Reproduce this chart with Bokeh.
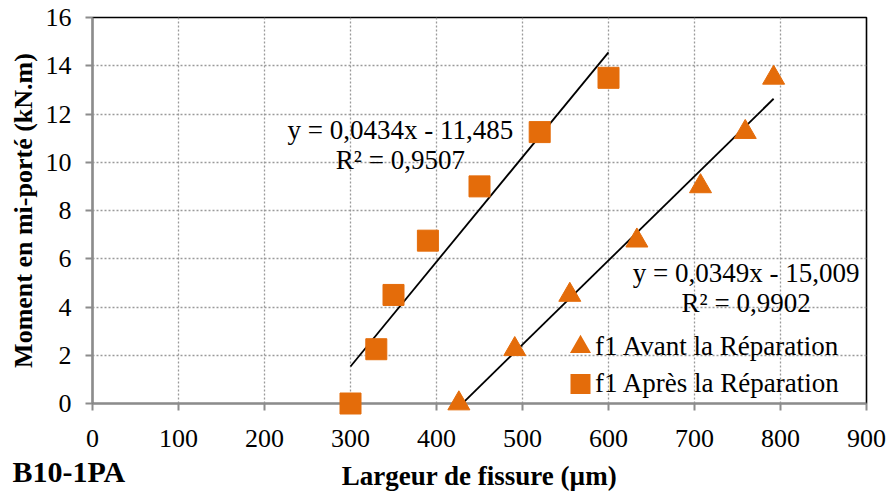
from bokeh.plotting import figure
from bokeh.models import (Label, Legend, LegendItem, Range1d, FixedTicker, Title,
                          ColumnDataSource)
from bokeh.embed import file_html
from bokeh.resources import INLINE

# ---- data ----
avant_x = [426, 491, 555, 633, 707, 759, 792]
avant_y = [0, 2.25, 4.5, 6.75, 9.0, 11.25, 13.5]
apres_x = [300, 330, 350, 390, 450, 520, 600]
apres_y = [0, 2.25, 4.5, 6.75, 9.0, 11.25, 13.5]

avant_slope, avant_intercept = 0.0349, -15.009
apres_slope, apres_intercept = 0.0434, -11.485

avant_name = "f1 Avant la Réparation"
apres_name = "f1 Après la Réparation"
avant_eq = ["y = 0,0349x - 15,009", "R² = 0,9902"]
apres_eq = ["y = 0,0434x - 11,485", "R² = 0,9507"]

x_ticks = [0, 100, 200, 300, 400, 500, 600, 700, 800, 900]
y_ticks = [0, 2, 4, 6, 8, 10, 12, 14, 16]
x_title = "Largeur de fissure (µm)"
y_title = "Moment en mi-porté (kN.m)"
corner_title = "B10-1PA"

ORANGE = "#E46C0A"
SERIF = "Liberation Serif"

p = figure(width=889, height=493, output_backend="svg", toolbar_location=None,
           x_range=Range1d(0, 900), y_range=Range1d(0, 16),
           min_border_left=92, min_border_right=23, min_border_top=17, min_border_bottom=90)
p.background_fill_color = "white"
p.border_fill_color = "white"
p.outline_line_color = "black"
p.outline_line_width = 1.6

for ax in (p.xaxis[0], p.yaxis[0]):
    ax.axis_line_color = "#8C8C8C"
    ax.axis_line_width = 2
    ax.major_tick_line_color = "#8C8C8C"
    ax.major_tick_line_width = 2
    ax.major_tick_out = 7
    ax.major_tick_in = 0
    ax.minor_tick_line_color = None
    ax.major_label_text_font = SERIF
    ax.major_label_text_font_size = "26px"
    ax.major_label_text_color = "black"
    ax.axis_label_text_font = SERIF
    ax.axis_label_text_font_style = "bold"
    ax.axis_label_text_color = "black"

p.xaxis.ticker = FixedTicker(ticks=x_ticks)
p.yaxis.ticker = FixedTicker(ticks=y_ticks)
p.xaxis.axis_label = x_title
p.yaxis.axis_label = y_title
p.xaxis.axis_label_text_font_size = "27px"
p.yaxis.axis_label_text_font_size = "26px"
p.xaxis.major_label_standoff = 19
p.yaxis.major_label_standoff = 14
p.xaxis.axis_label_standoff = 11
p.yaxis.axis_label_standoff = 5

for g in (p.xgrid[0], p.ygrid[0]):
    g.grid_line_color = "#9A9A9A"
    g.grid_line_dash = "2 2"
    g.grid_line_width = 1.3
p.xgrid.ticker = FixedTicker(ticks=x_ticks)
p.ygrid.ticker = FixedTicker(ticks=y_ticks)

# trend lines (from displayed equations, over each series' x extent)
def trend(xs, m, b):
    x0, x1 = min(xs), max(xs)
    return [x0, x1], [m * x0 + b, m * x1 + b]

tx, ty = trend(apres_x, apres_slope, apres_intercept)
p.line(tx, ty, line_color="black", line_width=1.8)
tx, ty = trend(avant_x, avant_slope, avant_intercept)
p.line(tx, ty, line_color="black", line_width=1.8)

src_av = ColumnDataSource(dict(x=avant_x, y=avant_y))
src_ap = ColumnDataSource(dict(x=apres_x, y=apres_y))

p.scatter("x", "y", source=src_av, marker="triangle", size=22, fill_color=ORANGE,
          line_color=ORANGE, line_join="miter", level="overlay")
p.scatter("x", "y", source=src_ap, marker="square", size=21, fill_color=ORANGE,
          line_color=ORANGE, line_join="miter", level="overlay")

# legend swatches: same series, muted (invisible) in the plot, thick outline enlarges swatch
lg_av = p.scatter("x", "y", source=src_av, marker="triangle", fill_color=ORANGE,
                  line_color=ORANGE, line_width=5.2, line_join="miter", muted_alpha=0)
lg_ap = p.scatter("x", "y", source=src_ap, marker="square", fill_color=ORANGE,
                  line_color=ORANGE, line_width=8, line_join="miter", muted_alpha=0)
lg_av.muted = True
lg_ap.muted = True

legend = Legend(items=[LegendItem(label=avant_name, renderers=[lg_av]),
                       LegendItem(label=apres_name, renderers=[lg_ap])],
                location=(473, 1), glyph_width=30, glyph_height=37, label_height=37,
                spacing=0, label_standoff=0, padding=0, margin=0,
                border_line_color=None, background_fill_alpha=0,
                label_text_font=SERIF, label_text_font_size="27px", label_text_color="black")
p.add_layout(legend, "center")

def eq_labels(lines, xc, y1, y2):
    for txt, yy in zip(lines, (y1, y2)):
        p.add_layout(Label(x=xc, y=yy, text=txt, text_align="center", text_baseline="middle",
                           text_font=SERIF, text_font_size="27px", text_color="black"))

eq_labels(apres_eq, 358, 11.35, 10.1)
eq_labels(avant_eq, 760, 5.4, 4.15)

corner = Title(text=corner_title, align="left", vertical_align="top", offset=-80,
               standoff=-78, text_font=SERIF, text_font_size="30px",
               text_font_style="bold", text_color="black")
p.add_layout(corner, "below")

open("out.html", "w").write(file_html(p, INLINE))
